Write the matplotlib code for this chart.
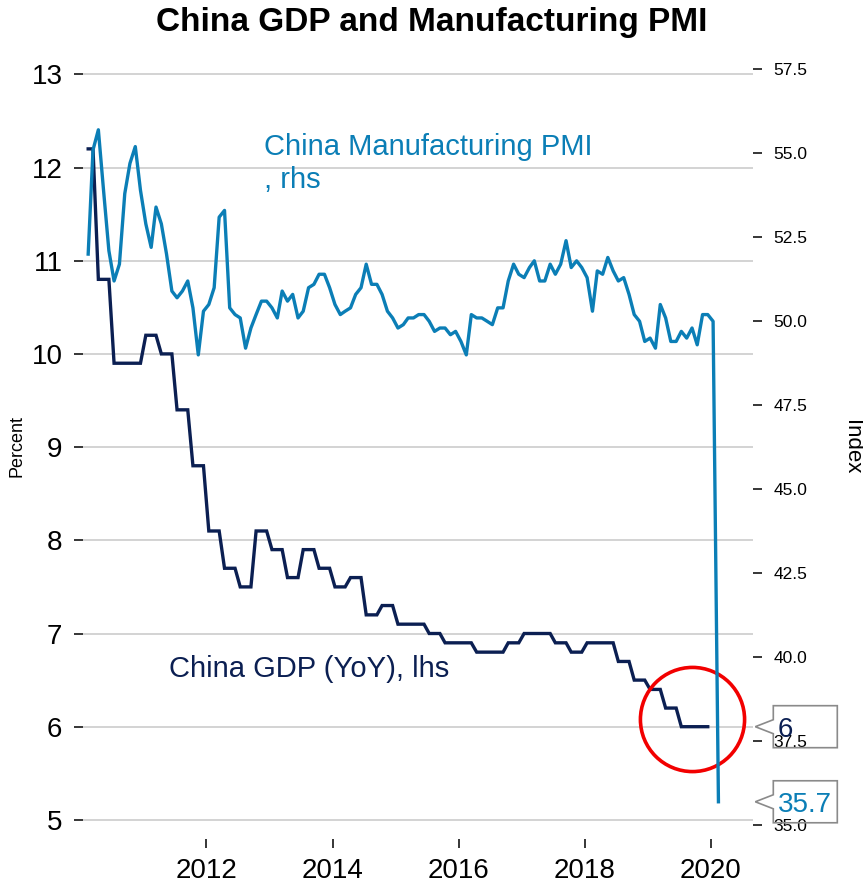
import numpy as np
import pandas as pd
import matplotlib
matplotlib.use("Agg")
import matplotlib.pyplot as plt
import matplotlib.dates as mdates
from matplotlib.patches import Polygon

plt.rcParams['font.family'] = ['Liberation Sans', 'DejaVu Sans']

# NBS official manufacturing PMI, monthly, Feb 2010 - Feb 2020
pmi_2010 = [52.0, 55.1, 55.7, 53.9, 52.1, 51.2, 51.7, 53.8, 54.7, 55.2, 53.9]
pmi_2011 = [52.9, 52.2, 53.4, 52.9, 52.0, 50.9, 50.7, 50.9, 51.2, 50.4, 49.0, 50.3]
pmi_2012 = [50.5, 51.0, 53.1, 53.3, 50.4, 50.2, 50.1, 49.2, 49.8, 50.2, 50.6, 50.6]
pmi_2013 = [50.4, 50.1, 50.9, 50.6, 50.8, 50.1, 50.3, 51.0, 51.1, 51.4, 51.4, 51.0]
pmi_2014 = [50.5, 50.2, 50.3, 50.4, 50.8, 51.0, 51.7, 51.1, 51.1, 50.8, 50.3, 50.1]
pmi_2015 = [49.8, 49.9, 50.1, 50.1, 50.2, 50.2, 50.0, 49.7, 49.8, 49.8, 49.6, 49.7]
pmi_2016 = [49.4, 49.0, 50.2, 50.1, 50.1, 50.0, 49.9, 50.4, 50.4, 51.2, 51.7, 51.4]
pmi_2017 = [51.3, 51.6, 51.8, 51.2, 51.2, 51.7, 51.4, 51.7, 52.4, 51.6, 51.8, 51.6]
pmi_2018 = [51.3, 50.3, 51.5, 51.4, 51.9, 51.5, 51.2, 51.3, 50.8, 50.2, 50.0, 49.4]
pmi_2019 = [49.5, 49.2, 50.5, 50.1, 49.4, 49.4, 49.7, 49.5, 49.8, 49.3, 50.2, 50.2]
pmi_2020 = [50.0, 35.7]

# Real GDP growth, % YoY, quarterly Q1 2010 - Q4 2019
gdp_quarterly = [12.2, 10.8, 9.9, 9.9,
                 10.2, 10.0, 9.4, 8.8,
                 8.1, 7.7, 7.5, 8.1,
                 7.9, 7.6, 7.9, 7.7,
                 7.5, 7.6, 7.2, 7.3,
                 7.1, 7.1, 7.0, 6.9,
                 6.9, 6.8, 6.8, 6.9,
                 7.0, 7.0, 6.9, 6.8,
                 6.9, 6.9, 6.7, 6.5,
                 6.4, 6.2, 6.0, 6.0]

year_ticks = [2012, 2014, 2016, 2018, 2020]
left_ticks = list(range(5, 14))
right_ticks = [35.0, 37.5, 40.0, 42.5, 45.0, 47.5, 50.0, 52.5, 55.0, 57.5]

PMI_BLUE = '#0B7EB6'
GDP_NAVY = '#0B1F52'
RING_RED = '#F20000'

pmi = np.array(pmi_2010 + pmi_2011 + pmi_2012 + pmi_2013 + pmi_2014 + pmi_2015
               + pmi_2016 + pmi_2017 + pmi_2018 + pmi_2019 + pmi_2020)
mid_month = pd.Timedelta(days=14)
pmi_dates = pd.date_range('2010-02-01', periods=len(pmi), freq='MS') + mid_month

# monthly GDP series holds each quarter's reading for its three months
gdp_monthly = np.repeat(gdp_quarterly, 3)[1:]
gdp_dates = pd.date_range('2010-02-01', periods=len(gdp_monthly), freq='MS') + mid_month

W, H = 863, 884
fig = plt.figure(figsize=(W / 100, H / 100), dpi=100)
ax_l, ax_r, ax_t, ax_b = 83, 753.3, 65, 839
ax = fig.add_axes([ax_l / W, 1 - ax_b / H, (ax_r - ax_l) / W, (ax_b - ax_t) / H])
ax2 = ax.twinx()

ax.plot(gdp_dates, gdp_monthly, color=GDP_NAVY, lw=2.4, solid_joinstyle='miter', zorder=3)
ax2.plot(pmi_dates, pmi, color=PMI_BLUE, lw=2.4, zorder=3)

ax.set_xlim(pd.Timestamp('2010-01-16'), pd.Timestamp('2020-09-04'))
ax.set_ylim(4.795, 13.1)
ax2.set_ylim(34.592, 57.628)

ax.set_xticks([pd.Timestamp(f'{y}-01-01') for y in year_ticks])
ax.xaxis.set_major_formatter(mdates.DateFormatter('%Y'))
ax.set_yticks(left_ticks)
ax.set_yticklabels([str(v) for v in left_ticks])
ax2.set_yticks(right_ticks)
ax2.set_yticklabels([f'{v:.1f}' for v in right_ticks])

for a in (ax, ax2):
    for s in a.spines.values():
        s.set_visible(False)

ax.yaxis.grid(True, color='#cccccc', lw=1.2)
ax.set_axisbelow(True)
ax.tick_params(axis='y', length=6.5, width=1.1, pad=8.3, labelsize=20)
ax.tick_params(axis='x', length=6.5, width=1.1, pad=7, labelsize=20)
ax2.tick_params(axis='y', length=6.5, width=1.1, pad=8, labelsize=12.5)

# highlight of the latest GDP readings
ax.plot([pd.Timestamp('2019-09-14')], [6.08], marker='o', markersize=75,
        mfc='none', mec=RING_RED, mew=2.6, zorder=4)

ax.text(0.270, 0.8407, 'China Manufacturing PMI\n, rhs', transform=ax.transAxes,
        color=PMI_BLUE, fontsize=21, va='baseline', linespacing=1.25)
ax.text(0.1287, 0.2097, 'China GDP (YoY), lhs', transform=ax.transAxes,
        color=GDP_NAVY, fontsize=21, va='baseline')

fig.text(432 / W, 1 - 31 / H, 'China GDP and Manufacturing PMI',
         ha='center', va='baseline', fontsize=24, fontweight='bold')
fig.text(17 / W, 1 - 446 / H, 'Percent', rotation=90, ha='center', va='center', fontsize=13)
fig.text(851 / W, 1 - 447 / H, 'Index', rotation=270, ha='center', va='center', fontsize=16)


def last_value_tag(axis, value, color):
    """Arrow-shaped box on the right margin pointing at the series' last value."""
    x_tip, y_tip = axis.transData.transform((axis.get_xlim()[1], value))
    x_tip += 2
    bl, br, hh, ph = x_tip + 18, x_tip + 82, 21, 7
    pts = [(x_tip, y_tip), (bl, y_tip + ph), (bl, y_tip + hh), (br, y_tip + hh),
           (br, y_tip - hh), (bl, y_tip - hh), (bl, y_tip - ph)]
    to_fig = fig.transFigure.inverted()
    fig.add_artist(Polygon(to_fig.transform(pts), closed=True, transform=fig.transFigure,
                           facecolor='none', edgecolor='#8a8a8a', lw=1.2, zorder=5))
    tx, ty = to_fig.transform((bl + 4.5, y_tip - 10))
    fig.text(tx, ty, f'{value:g}', color=color, fontsize=20, va='baseline', zorder=6)


last_value_tag(ax, gdp_quarterly[-1], GDP_NAVY)
last_value_tag(ax2, pmi[-1], PMI_BLUE)

fig.savefig('out.png', dpi=100)
